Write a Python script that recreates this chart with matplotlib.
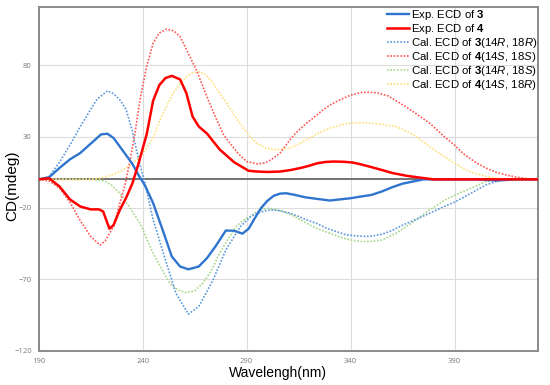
import matplotlib
matplotlib.use("Agg")
import matplotlib.pyplot as plt

plt.rcParams['mathtext.fontset'] = 'custom'
plt.rcParams['mathtext.rm'] = 'Liberation Sans'
plt.rcParams['mathtext.it'] = 'Liberation Sans:italic'
plt.rcParams['mathtext.bf'] = 'Liberation Sans:bold'

# ---- data ----
exp3_x = [190,195,200,205,210,215,220,223,226,229,232,235,238,241,245,250,254,258,262,267,271,275,280,284,288,291,294,297,300,303,306,309,313,318,323,330,335,340,345,350,355,360,365,370,375,380,390,400,410,420,430]
exp3_y = [0,1.5,8,14,18.5,25,31.5,32,29,23,17,11,3,-4,-16.5,-37,-54,-61,-63,-61,-55,-47,-35.8,-36,-38,-34.5,-27,-20,-15,-11.5,-10,-9.7,-10.8,-12.5,-13.5,-14.8,-14,-13.2,-12,-10.9,-8.5,-5.5,-3,-1.5,0,0,0,0,-0.8,0,0]

exp4_x = [190,195,200,205,210,215,219,221,224,226,229,232,235,238,242,245,248,251,254,258,261,264,267,271,277,284,291,295,300,306,311,316,320,324,328,332,337,341,345,349,354,360,367,373,380,430]
exp4_y = [0,0.8,-5,-14,-19,-21,-21,-22.5,-34.5,-32,-21.4,-13,-3,11,32,55,66,71,72.5,70,60.5,44,37,32,21,12,6,5.5,5.2,5.5,6.5,8,9.5,11.3,12.2,12.5,12.3,11.8,10.5,9,7,4.5,2.5,1.3,0,0]

cal3RR_x = [190,195,200,205,210,215,218,223,226,229,232,235,238,241,245,250,256,262,267,274,280,287,292,295,300,303,306,311,315,319,324,328,333,338,343,349,355,360,365,370,378,385,390,395,400,405,410,415,430]
cal3RR_y = [0,2,12,24,37,49,56,62,60,55.7,49,34,14,-2,-28,-52,-79.7,-94.4,-89,-70,-49.4,-33,-26,-23.7,-21.6,-21.4,-22,-23.7,-26,-28.4,-31,-34,-36.5,-38.9,-39.6,-40,-38.5,-35.8,-32,-29,-23.7,-19,-16,-12,-8,-3.9,-1.5,0,0]

cal4SS_x = [190,195,200,205,210,215,219.5,222,226,229,231.5,234,236.3,238.7,241.9,245,248,251.5,255,258,262.7,266,269,272,275.6,279,282,286,290,294.8,299,302.8,306,310.8,314,318.8,322,326.8,330,334.9,340,345,349,353,358,362,367,372,378,385,390,394,400,405,410,415,420,425,430]
cal4SS_y = [0,-1,-6,-16,-29,-40,-46,-43,-33,-16.7,-3.9,13.7,32.4,55.7,79,95.4,102.5,105.2,104,100,86,76,65,54,41.7,31,25.3,18,12.5,10.9,11.5,14.8,18.3,27.7,33,39.4,43,48.7,52,55.7,59,60.8,61,60.5,58.5,55,50.5,45.5,39.4,30,24,18.3,12,8,5,3,1.5,0.5,0]

cal3RS_x = [190,215,219.5,222,225,229,233,238.7,245,250,253,257,261,265,269,273,277,281,285,289,291.6,295,299.6,303,307.6,313,318.8,324,330,335,339.7,345,349.3,355,362,370,378,386,394,400,405,410,430]
cal3RS_y = [0,0,-0.5,-1.5,-4,-9.7,-18,-30.7,-51.7,-65,-72.7,-77.5,-79.3,-78,-72.7,-64,-51.7,-42,-33,-28,-26,-22.5,-20.2,-20.8,-22.5,-26,-30.7,-34.5,-37.7,-40.5,-42.4,-43.5,-43.6,-42.5,-37.7,-30,-21.4,-14,-8.5,-5,-1.5,0,0]

cal4SR_x = [190,215,220,225,230,235,240,245,249,254.7,258,261.1,264,267.5,270.5,273.9,277,280.4,283.5,286.8,291.6,294.8,299,304.4,310.8,314,318.8,324,330,335,339.7,345,349.3,355,362,370,378,385,392.6,398,405.4,410,415,430]
cal4SR_y = [0,0,1,3,6,11,18,29,44,60.4,67,72,74.5,75.5,73,67.4,60.5,53.4,46,39.4,30,25.3,22,20.7,21.8,24,27.7,32,35.8,38,39.4,39.8,39.4,38.5,37,31.5,23,16,9,5,2,0.8,0,0]

labels = [r"Exp. ECD of $\mathbf{3}$",
          r"Exp. ECD of $\mathbf{4}$",
          r"Cal. ECD of $\mathbf{3}$(14$\mathit{R}$, 18$\mathit{R}$)",
          r"Cal. ECD of $\mathbf{4}$(14$\mathit{S}$, 18$\mathit{S}$)",
          r"Cal. ECD of $\mathbf{3}$(14$\mathit{R}$, 18$\mathit{S}$)",
          r"Cal. ECD of $\mathbf{4}$(14$\mathit{S}$, 18$\mathit{R}$)"]

xticks = [190, 240, 290, 340, 390]
yticks = [-120, -70, -20, 30, 80]

fig = plt.figure(figsize=(5.5, 3.85), dpi=100)
ax = fig.add_axes([0.0704, 0.089, 0.9072, 0.892])

dot = (0, (1, 1))
l1, = ax.plot(exp3_x, exp3_y, color='#2F75CF', lw=1.7, zorder=6)
l2, = ax.plot(exp4_x, exp4_y, color='#FF0000', lw=1.8, zorder=7)
l3, = ax.plot(cal3RR_x, cal3RR_y, color='#5B97DE', lw=1.2, ls=dot, zorder=4)
l4, = ax.plot(cal4SS_x, cal4SS_y, color='#FF5555', lw=1.2, ls=dot, zorder=4)
l5, = ax.plot(cal3RS_x, cal3RS_y, color='#A6D88A', lw=1.2, ls=dot, zorder=3)
l6, = ax.plot(cal4SR_x, cal4SR_y, color='#FFE07A', lw=1.2, ls=dot, zorder=3)

ax.axhline(0, color='#5a5a5a', lw=1.2, zorder=2)

ax.set_xlim(190, 430)
ax.set_ylim(-120, 120.5)
ax.set_xticks(xticks)
ax.set_yticks(yticks)
ax.grid(True, color='#dcdcdc', lw=0.8, zorder=0)
ax.tick_params(axis='y', length=0, labelsize=5.5, colors='#7a7a7a', pad=5)
ax.tick_params(axis='x', length=0, labelsize=5.5, colors='#7a7a7a', pad=5)
for lab in ax.get_xticklabels() + ax.get_yticklabels():
    lab.set_fontfamily('Open Sans')
for s in ax.spines.values():
    s.set_color('#8a8a8a')
    s.set_linewidth(1.4)

leg = ax.legend([l1, l2, l3, l4, l5, l6], labels, loc='upper right',
                bbox_to_anchor=(1.0, 1.0), frameon=False,
                prop={'family': 'Liberation Sans', 'size': 8.2},
                handlelength=1.9, handletextpad=0.15, labelspacing=0.0,
                borderaxespad=0.0, borderpad=0.05)

fig.text(12/550, 1-186/385, 'CD(mdeg)', rotation=90, ha='center', va='center',
         fontsize=11, family='Liberation Sans')
fig.text(278/550, 1-373/385, 'Wavelengh(nm)', ha='center', va='center',
         fontsize=10, family='Liberation Sans')

fig.savefig('out.png', dpi=100)
